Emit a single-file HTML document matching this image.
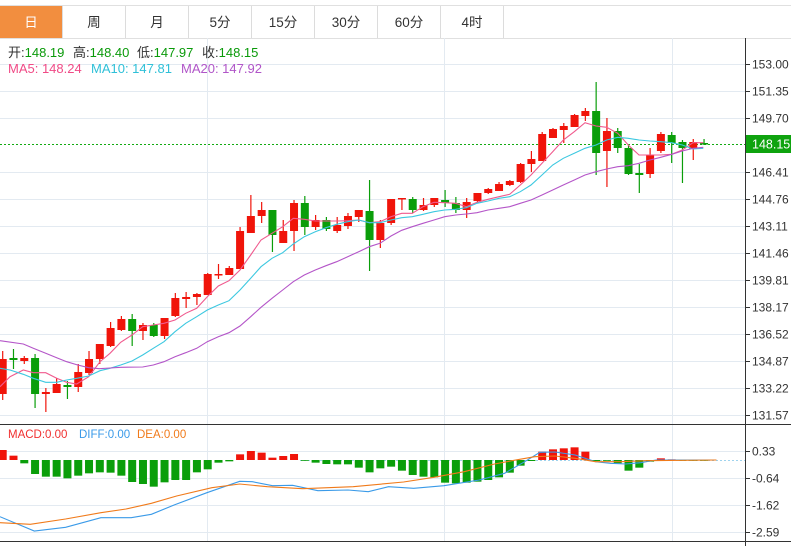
<!DOCTYPE html>
<html><head><meta charset="utf-8"><style>
html,body{margin:0;padding:0;background:#fff;width:791px;height:546px;overflow:hidden;font-family:"Liberation Sans","Noto Sans CJK SC",sans-serif}
svg{position:absolute;left:0;top:0}
</style></head><body>
<svg id="s" width="791" height="546" xmlns="http://www.w3.org/2000/svg" font-family="Liberation Sans, Noto Sans CJK SC, sans-serif">
<rect x="0" y="0" width="791" height="546" fill="#fff"/>
<line x1="0" y1="5.5" x2="791" y2="5.5" stroke="#e0e0e0"/>
<line x1="0" y1="38.5" x2="791" y2="38.5" stroke="#e0e0e0"/>
<rect x="0" y="6" width="62" height="32" fill="#f28e3f"/>
<g stroke="#dcdcdc"><line x1="62.5" y1="6" x2="62.5" y2="38"/><line x1="125.5" y1="6" x2="125.5" y2="38"/><line x1="188.5" y1="6" x2="188.5" y2="38"/><line x1="251.5" y1="6" x2="251.5" y2="38"/><line x1="314.5" y1="6" x2="314.5" y2="38"/><line x1="377.5" y1="6" x2="377.5" y2="38"/><line x1="440.5" y1="6" x2="440.5" y2="38"/><line x1="503.5" y1="6" x2="503.5" y2="38"/></g>
<g font-size="13.5" text-anchor="middle" fill="#333">
<text x="31" y="27" fill="#fff">日</text><text x="94" y="27">周</text><text x="157" y="27">月</text><text x="220" y="27">5分</text><text x="283" y="27">15分</text><text x="346" y="27">30分</text><text x="409" y="27">60分</text><text x="472" y="27">4时</text>
</g>
<g id="grid" stroke="#e3eaf1" stroke-width="1"></g>
<g id="draw"></g>
<line x1="745.5" y1="38" x2="745.5" y2="546" stroke="#333"/>
<line x1="0" y1="424.5" x2="791" y2="424.5" stroke="#333"/>
<line x1="0" y1="541.5" x2="791" y2="541.5" stroke="#333"/>
<g id="ax" font-size="12" fill="#333"></g>
<rect x="746" y="135" width="45" height="18" fill="#0fa30f"/>
<text x="752" y="148.5" font-size="12.5" fill="#fff">148.15</text>
<g font-size="13">
<text x="8" y="57" fill="#333">开:<tspan fill="#0a9a0a">148.19</tspan></text>
<text x="73" y="57" fill="#333">高:<tspan fill="#0a9a0a">148.40</tspan></text>
<text x="137" y="57" fill="#333">低:<tspan fill="#0a9a0a">147.97</tspan></text>
<text x="202" y="57" fill="#333">收:<tspan fill="#0a9a0a">148.15</tspan></text>
</g>
<g font-size="13">
<text x="8" y="73" fill="#f04a86">MA5: 148.24</text>
<text x="91" y="73" fill="#2fc0d8">MA10: 147.81</text>
<text x="181" y="73" fill="#b055c8">MA20: 147.92</text>
</g>
<g font-size="11.5">
<text x="8" y="438" fill="#f03030">MACD:0.00</text>
<text x="79" y="438" fill="#3a9ae8">DIFF:0.00</text>
<text x="137" y="438" fill="#f07a1a">DEA:0.00</text>
</g>
</svg>
<script>
var NS="http://www.w3.org/2000/svg";
function el(p,t,a){var e=document.createElementNS(NS,t);for(var k in a)e.setAttribute(k,a[k]);p.appendChild(e);return e;}
var g=document.getElementById('grid'),d=document.getElementById('draw'),ax=document.getElementById('ax');
var py=[64,91,118,172,199,226,253,280,307,334,361,388,415],pl=["153.00","151.35","149.70","146.41","144.76","143.11","141.46","139.81","138.17","136.52","134.87","133.22","131.57"];
py.forEach(function(y,i){el(g,'line',{x1:0,y1:y+.5,x2:745,y2:y+.5});el(ax,'line',{x1:746,y1:y+.5,x2:750,y2:y+.5,stroke:'#333'});var t=el(ax,'text',{x:752,y:y+4.5});t.textContent=pl[i];});
var my=[451,478,505,532],ml=["0.33","-0.64","-1.62","-2.59"];
my.forEach(function(y,i){el(g,'line',{x1:0,y1:y+.5,x2:745,y2:y+.5});el(ax,'line',{x1:746,y1:y+.5,x2:750,y2:y+.5,stroke:'#333'});var t=el(ax,'text',{x:752,y:y+4.5});t.textContent=ml[i];});
[207,444,672].forEach(function(x){el(g,'line',{x1:x+.5,y1:38,x2:x+.5,y2:541});});
el(d,'line',{x1:0,y1:144.5,x2:745,y2:144.5,stroke:'#11aa11','stroke-dasharray':'2,2'});
el(d,'line',{x1:300,y1:460.5,x2:745,y2:460.5,stroke:'#9fd3ee','stroke-dasharray':'2,2'});
var R='#f0140a',G='#0a9e0a';
var C=[[359,394,351,400,R],[358,360,349,369,G],[358,361,356,364,R],[358,394,354,408,G],[392,394,388,412,R],[384,393,378,393,R],[385,387,381,399,G],[372,387,364,392,R],[359,373,351,375,R],[344,359,344,364,R],[328,346,322,347,R],[319,330,316,331,R],[319,331,314,346,G],[325,331,323,340,R],[325,336,323,337,G],[318,336,318,339,R],[298,316,293,317,R],[297,299,292,308,R],[294,297,293,305,R],[274,295,273,295,R],[274,275,264,279,R],[268,275,266,275,R],[231,269,227,269,R],[216,233,195,233,R],[210,216,202,223,R],[210,235,210,252,G],[231,243,220,243,R],[203,231,200,251,R],[203,227,196,235,G],[220,227,215,230,R],[220,229,217,231,G],[225,231,217,233,R],[216,226,213,229,R],[210,217,210,222,R],[211,240,180,271,G],[223,240,220,248,R],[199,223,199,225,R],
[198,199,198,210,R],[199,210,197,213,G],[205,210,198,211,R],[198,205,198,207,R],[200,203,190,207,G],[203,210,197,213,G],[202,210,198,218,R],[193,201,193,203,R],[189,193,188,194,R],[184,191,182,191,R],[181,185,180,186,R],[164,182,163,183,R],[159,164,151,172,R],[134,161,132,161,R],[129,138,128,138,R],[126,130,123,143,R],[115,127,114,127,R],[111,116,108,121,R],[111,153,82,175,G],[131,151,118,187,R],[131,148,128,153,G],[148,174,145,175,G],[173,175,164,193,G],[155,174,148,178,R],[134,151,132,153,R],[135,143,132,163,G],[142,148,140,183,G],[142,149,139,160,R],[143,144,139,145,G]];
C.forEach(function(c,i){var x=2.7+i*10.79;el(d,'line',{x1:x,y1:c[2],x2:x,y2:c[3],stroke:c[4],'stroke-width':1.2});el(d,'rect',{x:x-4,y:c[0],width:8,height:Math.max(1.5,c[1]-c[0]),fill:c[4]});});
var H=[90,107,130,162,170,170,175,167,160,157,158,167,186,192,200,187,180,180,157,148,128,124,103,93,98,113,108,102,122,128,132,133,133,143,157,145,140,152,165,170,172,188,190,188,185,180,172,158,137,123,95,88,85,82,95,123,122,130,152,143,125,115,118,121,120,120];
H.forEach(function(v,i){var x=2.7+i*10.79,y=420+v/3,z=460;var c=v<120?R:G;var t=Math.min(y,z),h=Math.abs(y-z);if(h<0.8)h=0.8;el(d,'rect',{x:x-4,y:t,width:8,height:h,fill:c});});
function poly(pts,fx,fy,col){var s=pts.map(function(p){return (fx(p[0])).toFixed(1)+','+(fy(p[1])).toFixed(1)}).join(' ');el(d,'polyline',{points:s,fill:'none',stroke:col,'stroke-width':1.1});}
var a2x=function(v){return v/3},a2y=function(v){return 180+v/3},a3x=function(v){return 400+v/3},a3y=function(v){return 70+v/3};
function two(p2,p3,col){var pts=p2.map(function(p){return [a2x(p[0]),a2y(p[1])]}).concat(p3.map(function(p){return [a3x(p[0]),a3y(p[1])]}));poly(pts,function(v){return v},function(v){return v},col);}
two([[0,620],[30,590],[70,570],[100,578],[137,578],[170,595],[200,607],[230,612],[266,590],[300,545],[330,520],[362,487],[396,465],[428,440],[460,435],[492,430],[525,420],[557,400],[590,385],[622,350],[655,318],[687,302],[720,270],[752,225],[783,180],[816,160],[848,140],[880,115],[913,118],[946,123],[978,123],[1010,123],[1043,122],[1076,120],[1108,128],[1140,125],[1173,110]],
[[5,430],[37,430],[69,410],[102,397],[134,398],[167,400],[199,410],[231,397],[264,388],[297,380],[329,373],[361,345],[393,315],[426,280],[458,245],[490,210],[523,185],[555,158],[588,168],[620,172],[653,190],[685,225],[717,255],[750,255],[782,255],[815,253],[847,240],[879,218],[910,218]],'#f05a8e');
two([[0,565],[30,570],[70,583],[100,595],[137,607],[170,607],[200,600],[230,595],[266,588],[300,572],[330,565],[362,555],[396,543],[428,525],[460,505],[492,485],[525,455],[557,430],[590,410],[622,390],[655,375],[687,362],[720,330],[752,295],[783,260],[816,235],[848,218],[880,192],[913,170],[946,155],[978,143],[1010,133],[1043,125],[1076,120],[1108,128],[1140,128],[1173,120]],
[[5,443],[37,440],[69,433],[102,425],[134,420],[167,418],[199,413],[231,400],[264,393],[297,385],[329,380],[361,365],[393,345],[426,315],[458,285],[490,265],[523,250],[555,235],[588,225],[620,210],[653,202],[685,205],[717,210],[750,213],[782,215],[815,218],[847,225],[879,237],[910,235]],'#3cc8e0');
two([[0,482],[70,492],[100,505],[137,520],[170,533],[200,545],[233,555],[266,563],[298,566],[330,564],[362,562],[428,561],[460,555],[492,545],[525,530],[557,518],[590,505],[622,485],[655,470],[687,458],[720,438],[752,410],[783,382],[816,355],[848,330],[880,305],[913,285],[946,270],[978,257],[1010,245],[1043,230],[1076,215],[1108,200],[1140,190],[1173,168]],
[[5,481],[37,470],[69,460],[102,450],[134,440],[167,435],[199,432],[231,428],[264,420],[297,415],[329,410],[361,400],[393,390],[426,375],[458,360],[490,345],[523,330],[555,315],[588,305],[620,297],[653,290],[685,287],[717,280],[750,270],[782,262],[815,253],[847,243],[879,235],[910,232]],'#b455c8');
var mx=function(v){return v/1.982},my2=function(v){return 420+v/3};
poly([[0,290],[68,333],[130,322],[200,293],[260,293],[300,283],[345,255],[410,218],[475,184],[500,185],[540,197],[580,196],[630,212],[690,210],[730,215],[770,200],[820,205],[880,197],[950,180],[1000,160],[1040,125],[1070,97],[1100,96],[1140,105],[1180,125],[1210,130],[1240,132],[1270,128],[1300,120],[1420,120]],mx,my2,'#3a9ae8');
poly([[0,308],[60,313],[130,297],[200,278],[250,267],[300,250],[350,228],[420,203],[475,192],[530,200],[600,206],[700,200],[800,186],[860,172],[920,155],[980,132],[1030,118],[1060,110],[1100,108],[1140,115],[1180,125],[1230,125],[1280,122],[1420,120]],mx,my2,'#f07a1a');
</script>
</body></html>
